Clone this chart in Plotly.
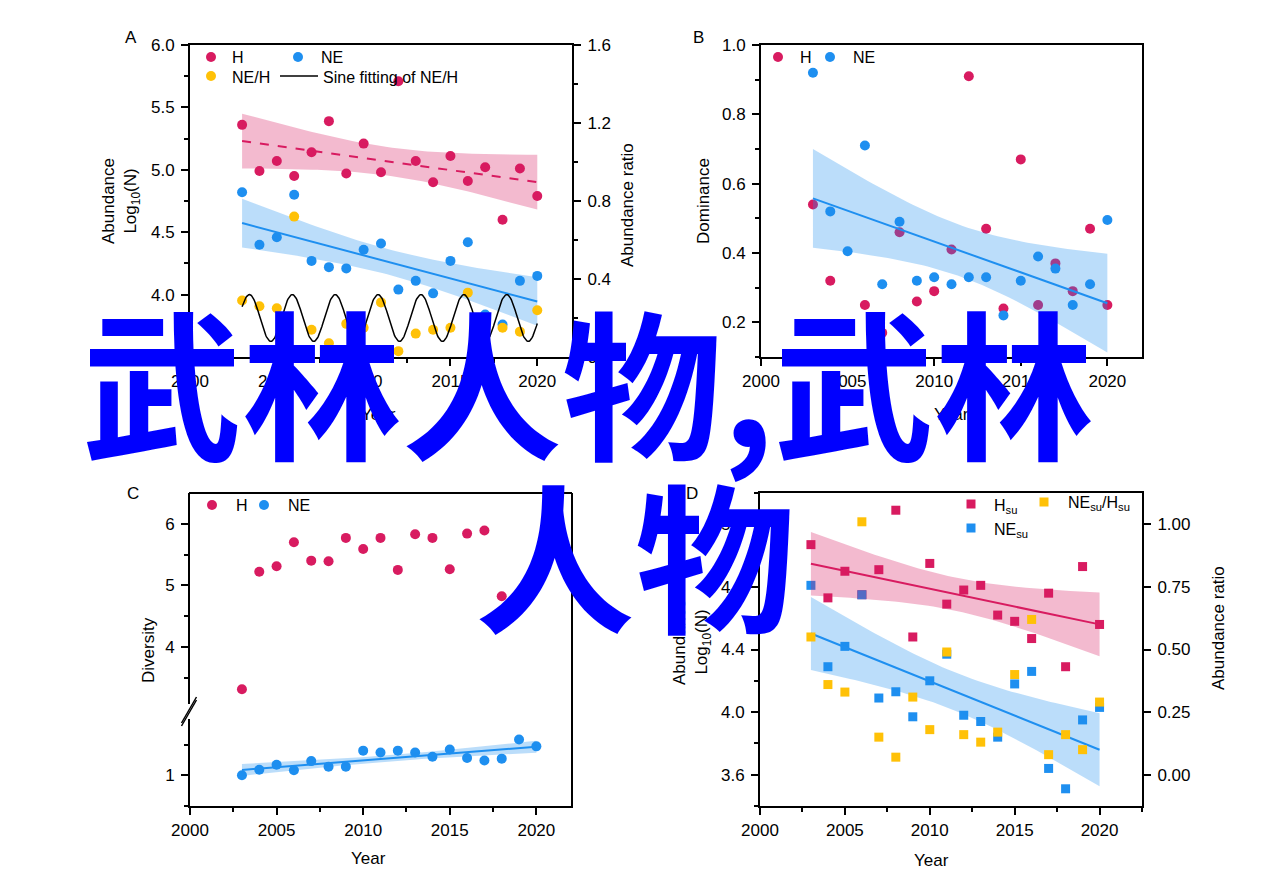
import numpy as np
import plotly.graph_objects as go

W, H = 1269, 896
OFF = 8  # page body margin of the html page
FW, FH = W - OFF, H - OFF
FONT = "Liberation Sans, Arial, sans-serif"
RED = "#D81B60"
BLUE = "#1E8FF0"
YELLOW = "#FFC107"
RED_BAND = "rgba(216,27,96,0.30)"
BLUE_BAND = "rgba(30,143,240,0.30)"

# ---- data ----
YEARS = list(range(2003, 2021))

# A: abundance log10(N) and NE/H ratio
A_H = [5.36, 4.99, 5.07, 4.95, 5.14, 5.39, 4.97, 5.21, 4.98, 5.71, 5.07, 4.90, 5.11, 4.91, 5.02, 4.60, 5.01, 4.79]
A_NE = [4.82, 4.40, 4.46, 4.80, 4.27, 4.22, 4.21, 4.36, 4.41, 4.04, 4.11, 4.01, 4.27, 4.42, 3.84, 3.76, 4.11, 4.15]
A_RATIO = [0.29, 0.26, 0.25, 0.72, 0.14, 0.07, 0.17, 0.15, 0.28, 0.03, 0.12, 0.14, 0.15, 0.33, 0.07, 0.15, 0.13, 0.24]
# sine fitting of NE/H (fitted parameters)
SINE_OFFSET = 0.20
SINE_AMP = 0.12
SINE_PERIOD = 2.47
SINE_PEAK = 2003.42

# B: dominance
B_H = [0.54, 0.32, 0.175, 0.25, 0.17, 0.46, 0.26, 0.29, 0.41, 0.91, 0.47, 0.24, 0.67, 0.25, 0.37, 0.29, 0.47, 0.25]
B_NE = [0.92, 0.52, 0.405, 0.71, 0.31, 0.49, 0.32, 0.33, 0.31, 0.33, 0.33, 0.22, 0.32, 0.39, 0.355, 0.25, 0.31, 0.495]

# C: diversity
C_H = [3.31, 5.22, 5.31, 5.70, 5.40, 5.39, 5.77, 5.59, 5.77, 5.25, 5.83, 5.77, 5.26, 5.84, 5.89, 4.82, 4.76, 5.09]
C_NE = [1.00, 1.09, 1.17, 1.08, 1.23, 1.14, 1.14, 1.40, 1.37, 1.40, 1.37, 1.30, 1.42, 1.28, 1.24, 1.27, 1.58, 1.47]

# D: abundance of su and ratio
D_H = [5.07, 4.73, 4.90, 4.75, 4.91, 5.29, 4.48, 4.95, 4.69, 4.78, 4.81, 4.62, 4.58, 4.47, 4.76, 4.29, 4.93, 4.56]
D_NE = [4.81, 4.29, 4.42, 4.75, 4.09, 4.13, 3.97, 4.20, 4.37, 3.98, 3.94, 3.84, 4.18, 4.26, 3.64, 3.51, 3.95, 4.03]
D_RATIO = [0.55, 0.36, 0.33, 1.01, 0.15, 0.07, 0.31, 0.18, 0.49, 0.16, 0.13, 0.17, 0.40, 0.62, 0.08, 0.16, 0.10, 0.29]

X_TICKS = [2000, 2005, 2010, 2015, 2020]
T975 = 2.12  # t quantile, df = 16


def px(x):
    return (x - OFF) / FW


def py(y):
    return 1 - (y - OFF) / FH


def ols_band(x, y, n_pts=60):
    # linear fit with 95% confidence band
    x = np.asarray(x, float)
    y = np.asarray(y, float)
    n = len(x)
    xm = x.mean()
    sxx = ((x - xm) ** 2).sum()
    b1 = ((x - xm) * (y - y.mean())).sum() / sxx
    b0 = y.mean() - b1 * xm
    s = np.sqrt(((y - (b0 + b1 * x)) ** 2).sum() / (n - 2))
    xs = np.linspace(x.min(), x.max(), n_pts)
    yh = b0 + b1 * xs
    se = s * np.sqrt(1 / n + (xs - xm) ** 2 / sxx)
    return xs, yh, yh - T975 * se, yh + T975 * se


def add_fit(fig, x, y, color, band, xa, ya, dash="solid"):
    xs, yh, lo, hi = ols_band(x, y)
    fig.add_trace(go.Scatter(
        x=np.concatenate([xs, xs[::-1]]), y=np.concatenate([hi, lo[::-1]]),
        fill="toself", fillcolor=band, line=dict(width=0), mode="lines",
        hoverinfo="skip", xaxis=xa, yaxis=ya))
    fig.add_trace(go.Scatter(
        x=xs, y=yh, mode="lines", line=dict(color=color, width=2, dash=dash),
        hoverinfo="skip", xaxis=xa, yaxis=ya))


def pts(x, y, color, xa, ya, symbol="circle", size=10):
    return go.Scatter(x=x, y=y, mode="markers", xaxis=xa, yaxis=ya,
                      marker=dict(color=color, size=size, symbol=symbol, line=dict(width=0)))


def axis(**kw):
    base = dict(showline=True, linewidth=2, linecolor="black", ticks="outside",
                ticklen=7, tickwidth=2, tickcolor="black", showgrid=False, zeroline=False,
                automargin=False, tickfont=dict(family=FONT, size=17, color="black"))
    base.update(kw)
    return base


def minor(dtick, tick0=0):
    return dict(dtick=dtick, tick0=tick0, ticks="outside", ticklen=4, tickwidth=2, tickcolor="black")


fig = go.Figure()

# ---- A ----
fig.add_trace(pts(YEARS, A_H, RED, "x", "y"))
fig.add_trace(pts(YEARS, A_NE, BLUE, "x", "y"))
add_fit(fig, YEARS, A_H, RED, RED_BAND, "x", "y", dash="dash")
add_fit(fig, YEARS, A_NE, BLUE, BLUE_BAND, "x", "y")
fig.add_trace(pts(YEARS, A_RATIO, YELLOW, "x", "y2"))
xs_sine = np.linspace(YEARS[0], YEARS[-1], 400)
fig.add_trace(go.Scatter(
    x=xs_sine, y=SINE_OFFSET + SINE_AMP * np.cos(2 * np.pi * (xs_sine - SINE_PEAK) / SINE_PERIOD),
    mode="lines", line=dict(color="black", width=1.5), xaxis="x", yaxis="y2"))

# ---- B ----
fig.add_trace(pts(YEARS, B_H, RED, "x2", "y3"))
fig.add_trace(pts(YEARS, B_NE, BLUE, "x2", "y3"))
add_fit(fig, YEARS, B_NE, BLUE, BLUE_BAND, "x2", "y3")

# ---- C ----
fig.add_trace(pts(YEARS, C_H, RED, "x3", "y5"))
fig.add_trace(pts(YEARS, C_NE, BLUE, "x3", "y4"))
add_fit(fig, YEARS, C_NE, BLUE, BLUE_BAND, "x3", "y4")

# ---- D ----
fig.add_trace(pts(YEARS, D_H, RED, "x4", "y6", symbol="square", size=9))
fig.add_trace(pts(YEARS, D_NE, BLUE, "x4", "y6", symbol="square", size=9))
add_fit(fig, YEARS, D_H, RED, RED_BAND, "x4", "y6")
add_fit(fig, YEARS, D_NE, BLUE, BLUE_BAND, "x4", "y6")
fig.add_trace(pts(YEARS, D_RATIO, YELLOW, "x4", "y7", symbol="square", size=9))

top_dom = [py(357), py(45)]
bot_dom = [py(806), py(493)]
c_split = py(710)
x_common = dict(tickvals=X_TICKS, minor=minor(2.5, 2000), ticklabelstandoff=1)

fig.update_layout(
    template="none",
    width=FW, height=FH, autosize=False, margin=dict(l=0, r=0, t=0, b=0, pad=0),
    paper_bgcolor="white", plot_bgcolor="white", showlegend=False,
    xaxis=axis(domain=[px(190), px(572)], range=[2000, 2022], anchor="y", mirror=True, **x_common),
    yaxis=axis(domain=top_dom, range=[3.5, 6.0], anchor="x", mirror=True, ticklabelstandoff=3,
               tickvals=[4.0, 4.5, 5.0, 5.5, 6.0], tickformat=".1f", minor=minor(0.25, 3.5)),
    yaxis2=axis(range=[0, 1.6], overlaying="y", side="right", anchor="x", ticklabelstandoff=3,
                tickvals=[0, 0.4, 0.8, 1.2, 1.6], tickformat=".1f", minor=minor(0.2)),
    xaxis2=axis(domain=[px(761), px(1142)], range=[2000, 2022], anchor="y3", mirror=True, **x_common),
    yaxis3=axis(domain=top_dom, range=[0.1, 1.0], anchor="x2", mirror=True, ticklabelstandoff=3,
                tickvals=[0.2, 0.4, 0.6, 0.8, 1.0], tickformat=".1f", minor=minor(0.1)),
    xaxis3=axis(domain=[px(190), px(571)], range=[2000, 2022], anchor="y4", **x_common),
    yaxis4=axis(domain=[bot_dom[0], c_split], range=[0.5, 0.5 + (806 - 710) / 61.5], anchor="x3",
                mirror=True, tickvals=[1], ticklabelstandoff=3,
                minor=dict(tickvals=[0.5, 1.5], ticks="outside", ticklen=4, tickwidth=2, tickcolor="black")),
    yaxis5=axis(domain=[c_split, bot_dom[1]], range=[6.5 - (710 - 493) / 61.5, 6.5], anchor="x3",
                mirror=True, tickvals=[4, 5, 6], ticklabelstandoff=3,
                minor=dict(tickvals=[3.5, 4.5, 5.5], ticks="outside", ticklen=4, tickwidth=2, tickcolor="black")),
    xaxis4=axis(domain=[px(760), px(1142)], range=[2000, 2022.5], anchor="y6", mirror=True, **x_common),
    yaxis6=axis(domain=bot_dom, range=[3.4, 5.4], anchor="x4", mirror=True, ticklabelstandoff=3,
                tickvals=[3.6, 4.0, 4.4, 4.8, 5.2], tickformat=".1f", minor=minor(0.2, 3.4)),
    yaxis7=axis(range=[-0.125, 1.125], overlaying="y6", side="right", anchor="x4", ticklabelstandoff=3,
                tickvals=[0, 0.25, 0.5, 0.75, 1.0], tickformat=".2f"),
)

shapes = []
# top border of panel C
shapes.append(dict(type="line", xref="paper", yref="paper", x0=px(189), x1=px(572), y0=py(493), y1=py(493),
                   line=dict(color="black", width=2)))
# axis break marks on C
shapes.append(dict(type="line", xref="paper", yref="paper", x0=px(190), x1=px(190), y0=py(704), y1=py(719),
                   line=dict(color="white", width=4)))
for dy in (0, 3):
    shapes.append(dict(type="line", xref="paper", yref="paper", x0=px(181.5), x1=px(196.5),
                       y0=py(723 + dy), y1=py(697 + dy), line=dict(color="black", width=1.5)))


def leg_circle(x, y, color, r=5):
    shapes.append(dict(type="circle", xref="paper", yref="paper", x0=px(x - r), x1=px(x + r),
                       y0=py(y + r), y1=py(y - r), fillcolor=color, line=dict(width=0)))


def leg_square(x, y, color, r=4.5):
    shapes.append(dict(type="rect", xref="paper", yref="paper", x0=px(x - r), x1=px(x + r),
                       y0=py(y + r), y1=py(y - r), fillcolor=color, line=dict(width=0)))


leg_circle(211, 57, RED)
leg_circle(298, 57, BLUE)
leg_circle(211, 76, YELLOW)
shapes.append(dict(type="line", xref="paper", yref="paper", x0=px(280), x1=px(318), y0=py(76), y1=py(76),
                   line=dict(color="black", width=1.5)))
leg_circle(778, 57, RED)
leg_circle(830, 57, BLUE)
leg_circle(212, 505, RED)
leg_circle(264, 505, BLUE)
leg_square(971, 504, RED)
leg_square(1044, 502, YELLOW)
leg_square(971, 528, BLUE)

annotations = []


def txt(x, y, s, size=17, xanchor="left", angle=0, **kw):
    annotations.append(dict(x=px(x), y=py(y), xref="paper", yref="paper", text=s, showarrow=False,
                            xanchor=xanchor, yanchor="middle", textangle=angle,
                            font=dict(family=FONT, size=size, color="black"), **kw))


# panel letters
txt(131, 38, "A", xanchor="center")
txt(698, 38, "B", xanchor="center")
txt(133, 493, "C", xanchor="center")
txt(692, 493, "D", xanchor="center")

# legends
txt(230, 57, "H", 16)
txt(319, 57, "NE", 16)
txt(230, 77, "NE/H", 16)
txt(321, 77, "Sine fitting of NE/H", 16)
txt(798, 57, "H", 16)
txt(851, 57, "NE", 16)
txt(234, 505, "H", 16)
txt(286, 505, "NE", 16)
txt(992, 506, "H<sub>su</sub>", 16)
txt(1066, 504, "NE<sub>su</sub>/H<sub>su</sub>", 16)
txt(992, 530, "NE<sub>su</sub>", 16)

# axis titles
txt(121, 201, "Abundance<br>Log<sub>10</sub>(N)", xanchor="center", angle=-90)
txt(627, 205, "Abundance ratio", xanchor="center", angle=-90)
txt(378, 415, "Year", xanchor="center")
txt(703, 201, "Dominance", xanchor="center", angle=-90)
txt(951, 415, "Year", xanchor="center")
txt(148, 650, "Diversity", xanchor="center", angle=-90)
txt(368, 858, "Year", xanchor="center")
txt(692, 642, "Abundance<br>Log<sub>10</sub>(N)", xanchor="center", angle=-90)
txt(1218, 628, "Abundance ratio", xanchor="center", angle=-90)
txt(932, 860, "Year", xanchor="center")

# overlay caption
for x, y, s in [(588, 378, "武林人物,武林"), (635, 551, "人物")]:
    annotations.append(dict(x=px(x), y=py(y), xref="paper", yref="paper", text=s, showarrow=False,
                            xanchor="center", yanchor="middle",
                            font=dict(family="Noto Sans CJK SC", size=160, color="#0000FF", weight="bold")))

fig.update_layout(shapes=shapes, annotations=annotations)
fig.write_html("out.html")
